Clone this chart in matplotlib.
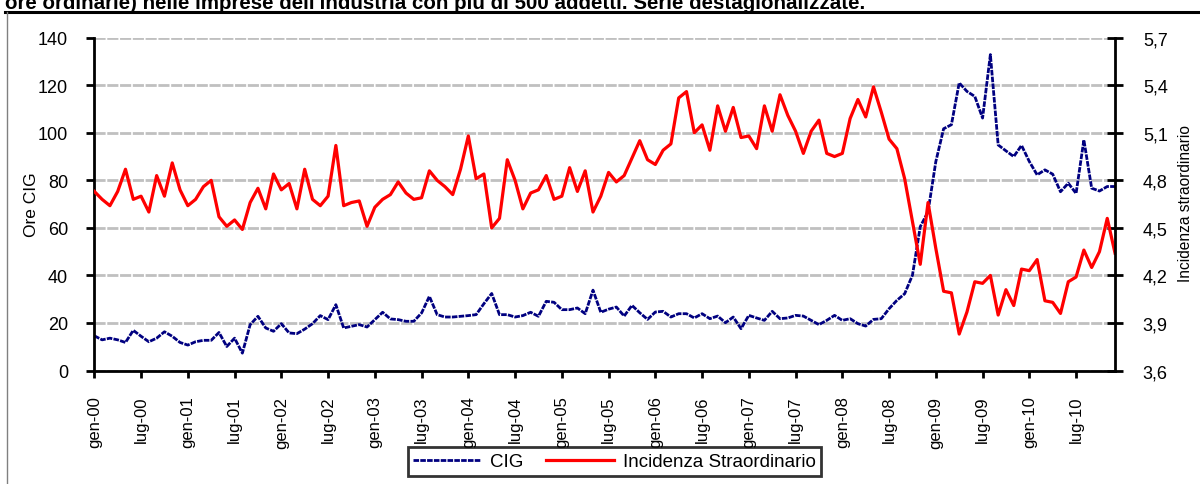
import matplotlib
matplotlib.use("Agg")
import matplotlib.pyplot as plt
import numpy as np

# ---- data (monthly, gen-00 .. dic-10) ----
cig = [14.6, 12.9, 13.6, 12.9, 11.8, 16.9, 14.4, 12.1, 13.6, 16.3, 14.4, 11.8,
       10.7, 12.1, 12.7, 12.7, 16.0, 10.1, 13.6, 7.3, 19.3, 22.8, 17.9, 16.5,
       19.7, 15.8, 15.5, 17.4, 19.7, 23.1, 21.4, 27.7, 17.9, 18.6, 19.3, 18.3,
       21.4, 24.5, 21.7, 21.4, 20.7, 20.7, 24.2, 31.2, 23.5, 22.5, 22.5, 22.8,
       23.1, 23.5, 28.1, 32.4, 23.5, 23.5, 22.5, 23.1, 24.5, 22.8, 29.1, 28.7,
       25.6, 25.6, 26.3, 23.9, 33.8, 24.5, 25.8, 26.7, 22.9, 27.4, 24.3, 21.5,
       24.6, 24.9, 22.5, 23.9, 23.9, 22.1, 23.9, 21.8, 22.9, 20.1, 22.5, 17.6,
       23.2, 22.1, 21.1, 24.9, 21.8, 22.1, 23.2, 22.9, 21.1, 19.3, 21.1, 23.2,
       21.1, 21.8, 19.7, 18.7, 21.5, 21.8, 26.0, 29.5, 32.3, 40.1, 60.5, 66.8,
       87.9, 101.7, 103.4, 121.0, 117.4, 115.3, 106.2, 132.9, 94.9, 92.4, 90.0, 94.7,
       87.9, 82.3, 84.4, 82.6, 75.2, 78.8, 74.5, 97.0, 76.7, 75.5, 77.4, 77.4]

incidenza = [4.73, 4.68, 4.64, 4.73, 4.87, 4.68, 4.70, 4.60, 4.83, 4.70, 4.91, 4.74,
             4.64, 4.68, 4.76, 4.80, 4.57, 4.51, 4.55, 4.49, 4.66, 4.75, 4.62, 4.84,
             4.74, 4.78, 4.62, 4.87, 4.68, 4.64, 4.70, 5.02, 4.64, 4.66, 4.67, 4.51,
             4.63, 4.68, 4.71, 4.79, 4.72, 4.68, 4.69, 4.86, 4.80, 4.76, 4.71, 4.87,
             5.08, 4.81, 4.84, 4.50, 4.56, 4.93, 4.80, 4.62, 4.72, 4.74, 4.83, 4.68,
             4.70, 4.88, 4.73, 4.86, 4.60, 4.70, 4.85, 4.79, 4.83, 4.94, 5.05, 4.93,
             4.90, 4.99, 5.03, 5.32, 5.36, 5.10, 5.15, 4.99, 5.27, 5.11, 5.26, 5.07,
             5.08, 5.00, 5.27, 5.11, 5.34, 5.21, 5.11, 4.97, 5.11, 5.18, 4.97, 4.95,
             4.97, 5.19, 5.31, 5.20, 5.39, 5.23, 5.06, 5.00, 4.81, 4.54, 4.27, 4.66,
             4.37, 4.10, 4.09, 3.83, 3.97, 4.16, 4.15, 4.20, 3.95, 4.11, 4.01, 4.24,
             4.23, 4.30, 4.04, 4.03, 3.96, 4.16, 4.19, 4.36, 4.25, 4.35, 4.56, 4.34]

tick_labels = ["gen-00", "lug-00", "gen-01", "lug-01", "gen-02", "lug-02",
               "gen-03", "lug-03", "gen-04", "lug-04", "gen-05", "lug-05",
               "gen-06", "lug-06", "gen-07", "lug-07", "gen-08", "lug-08",
               "gen-09", "lug-09", "gen-10", "lug-10"]

left_ticks = [0, 20, 40, 60, 80, 100, 120, 140]
right_ticks = [3.6, 3.9, 4.2, 4.5, 4.8, 5.1, 5.4, 5.7]

title = ("ore ordinarie) nelle imprese dell'industria con più di 500 addetti. "
         "Serie destagionalizzate.")

FONT = ["Liberation Sans", "DejaVu Sans"]

x = np.arange(len(cig))

fig = plt.figure(figsize=(12, 4.85), dpi=100)

# frame of the original object
fig.add_artist(plt.Line2D([5 / 1200, 1.0], [1 - 13 / 485, 1 - 13 / 485],
                          transform=fig.transFigure, color="black", lw=2.2))
fig.add_artist(plt.Line2D([7 / 1200, 7 / 1200], [0, 1 - 13 / 485],
                          transform=fig.transFigure, color="#808080", lw=1.0))
fig.text(5 / 1200, 1 - 9 / 485, title, family=FONT, weight="bold",
         fontsize=14.8, ha="left", va="baseline")

ax = fig.add_axes([0.0786, 0.234, 0.8506, 0.6862])
ax2 = ax.twinx()

ax.set_xlim(0, len(cig) - 1)
ax.set_ylim(0, 140)
ax2.set_ylim(3.6, 5.7)

ax.set_yticks(left_ticks)
ax.set_yticklabels([str(t) for t in left_ticks], family=FONT, fontsize=13)
ax2.set_yticks(right_ticks)
ax2.set_yticklabels([f"{t:.1f}".replace(".", ",") for t in right_ticks],
                    family=FONT, fontsize=13)
ax.set_xticks(np.arange(0, len(cig), 6))
ax.set_xticklabels(tick_labels, rotation=90, family=FONT, fontsize=12)

ax.grid(axis="y", color="#c0c0c0", lw=2.0, linestyle=(0, (4, 0.6)))
ax.set_axisbelow(True)

for a in (ax, ax2):
    for s in a.spines.values():
        s.set_visible(False)
ax.spines["left"].set_visible(True)
ax.spines["bottom"].set_visible(True)
ax2.spines["right"].set_visible(True)
for s in (ax.spines["left"], ax.spines["bottom"], ax2.spines["right"]):
    s.set_linewidth(2.0)
    s.set_color("black")

ax.tick_params(axis="y", direction="out", length=6, width=2.0, pad=13)
ax.tick_params(axis="x", direction="out", length=5, width=2.0, pad=13)
ax2.tick_params(axis="y", direction="inout", length=12, width=2.0, pad=14)

l1, = ax.plot(x, cig, color="#000080", lw=2.0, linestyle=(0, (2.0, 0.45)),
              label="CIG")
l2, = ax2.plot(x, incidenza, color="#ff0000", lw=2.3, label="Incidenza Straordinario")

fig.text(32 / 1200, 1 - 205 / 485, "Ore CIG", rotation=90, family=FONT,
         fontsize=12.5, ha="center", va="center")
fig.text(1185 / 1200, 1 - 204 / 485, "Incidenza straordinario", rotation=90,
         family=FONT, fontsize=11.2, ha="center", va="center")

leg = fig.legend([l1, l2], ["CIG", "Incidenza Straordinario"], loc="center",
                 bbox_to_anchor=(614.5 / 1200, 1 - 462.5 / 485), ncol=2,
                 frameon=True, fancybox=False, prop={"family": FONT, "size": 13.5},
                 handlelength=3.6, columnspacing=1.2, handletextpad=0.5,
                 borderpad=0.3, borderaxespad=0)
leg.get_frame().set_edgecolor("black")
leg.get_frame().set_linewidth(2.0)

fig.savefig("out.png", dpi=100)
